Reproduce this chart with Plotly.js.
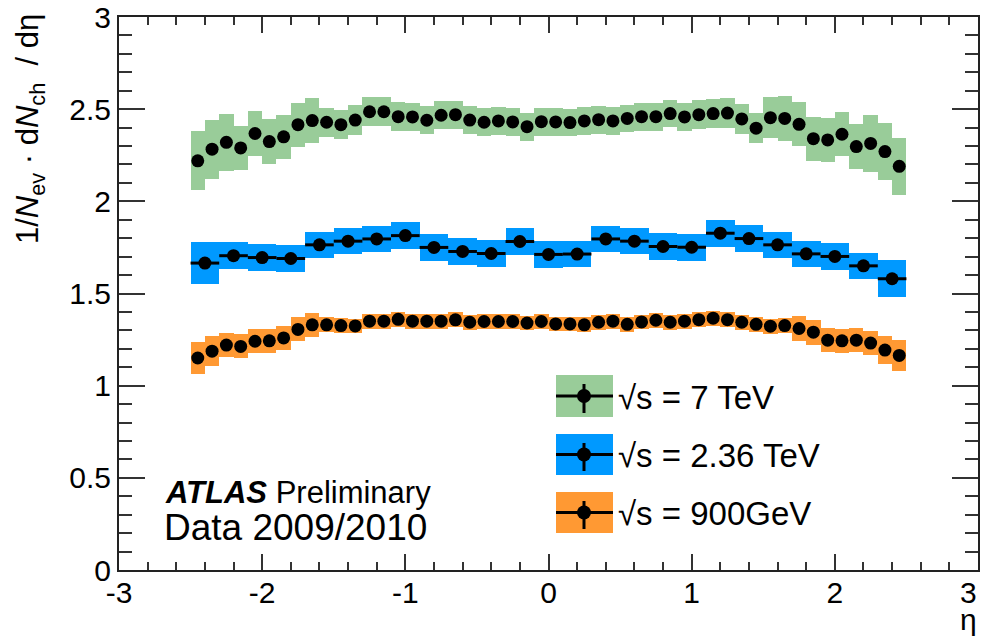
<!DOCTYPE html>
<html>
<head>
<meta charset="utf-8">
<script src="https://cdn.plot.ly/plotly-3.0.1.min.js"></script>
<style>
html,body{margin:0;padding:0;background:#fff;}
#chart{width:985px;height:639px;}
</style>
</head>
<body>
<div id="chart"></div>
<script>
// eta bin centres
var etaFine = [-2.45,-2.35,-2.25,-2.15,-2.05,-1.95,-1.85,-1.75,-1.65,-1.55,-1.45,-1.35,-1.25,-1.15,-1.05,-0.95,-0.85,-0.75,-0.65,-0.55,-0.45,-0.35,-0.25,-0.15,-0.05,
               0.05,0.15,0.25,0.35,0.45,0.55,0.65,0.75,0.85,0.95,1.05,1.15,1.25,1.35,1.45,1.55,1.65,1.75,1.85,1.95,2.05,2.15,2.25,2.35,2.45];
var etaCoarse = [-2.4,-2.2,-2.0,-1.8,-1.6,-1.4,-1.2,-1.0,-0.8,-0.6,-0.4,-0.2,0.0,0.2,0.4,0.6,0.8,1.0,1.2,1.4,1.6,1.8,2.0,2.2,2.4];
var fineWidth = 0.1, coarseWidth = 0.2;

// sqrt(s) = 7 TeV
var val7 = [2.22,2.283,2.32,2.29,2.368,2.324,2.35,2.416,2.438,2.429,2.416,2.441,2.486,2.486,2.459,2.458,2.44,2.467,2.47,2.441,2.429,2.436,2.431,2.405,2.432,
            2.431,2.427,2.436,2.443,2.436,2.45,2.459,2.459,2.476,2.458,2.47,2.476,2.479,2.447,2.397,2.454,2.45,2.418,2.34,2.333,2.364,2.297,2.314,2.27,2.19];
var sys7 = [0.16,0.16,0.155,0.12,0.12,0.12,0.12,0.12,0.12,0.08,0.08,0.08,0.08,0.08,0.078,0.075,0.075,0.075,0.075,0.075,0.075,0.075,0.075,0.075,0.075,
            0.075,0.075,0.075,0.075,0.075,0.075,0.075,0.075,0.075,0.075,0.078,0.08,0.08,0.08,0.08,0.11,0.12,0.12,0.12,0.12,0.12,0.12,0.155,0.155,0.155];

// sqrt(s) = 2.36 TeV
var val236 = [1.665,1.705,1.695,1.69,1.764,1.784,1.796,1.814,1.75,1.728,1.717,1.782,1.712,1.714,1.796,1.784,1.755,1.751,1.827,1.798,1.764,1.715,1.701,1.65,1.58];
var sys236 = [0.113,0.074,0.074,0.074,0.072,0.072,0.072,0.072,0.072,0.072,0.072,0.072,0.072,0.072,0.072,0.072,0.072,0.072,0.072,0.072,0.072,0.072,0.072,0.07,0.1];

// sqrt(s) = 900 GeV
var val900 = [1.15,1.187,1.22,1.213,1.241,1.243,1.259,1.305,1.33,1.33,1.326,1.324,1.35,1.35,1.36,1.35,1.35,1.35,1.357,1.344,1.348,1.348,1.348,1.34,1.348,
              1.335,1.335,1.33,1.344,1.35,1.333,1.346,1.355,1.344,1.35,1.358,1.366,1.358,1.344,1.333,1.323,1.326,1.31,1.29,1.247,1.243,1.247,1.231,1.193,1.164];
var sys900 = [0.087,0.08,0.065,0.065,0.065,0.065,0.065,0.065,0.065,0.04,0.04,0.04,0.04,0.04,0.04,0.04,0.04,0.04,0.04,0.04,0.04,0.04,0.04,0.04,0.04,
              0.04,0.04,0.04,0.04,0.04,0.04,0.04,0.04,0.04,0.04,0.04,0.04,0.04,0.04,0.04,0.04,0.04,0.067,0.067,0.067,0.067,0.067,0.067,0.078,0.085];

var seriesNames = ["\u221As = 7 TeV", "\u221As = 2.36 TeV", "\u221As = 900GeV"];
var xTickVals = [-3,-2,-1,0,1,2,3];
var xTickText = ["-3","-2","-1","0","1","2",""];
var xLastLabel = "3";
var yTickVals = [0,0.5,1,1.5,2,2.5,3];
var yTickText = ["0","0.5","1","1.5","2","2.5","3"];

var cGreen = "#99cc99", cBlue = "#0099ff", cOrange = "#ff9933";
var FONT = "Liberation Sans, Arial, Helvetica, sans-serif";

function band(x, v, e, w, color) {
  return {
    type: "bar", x: x,
    y: e.map(function (d) { return 2 * d; }),
    base: v.map(function (d, i) { return d - e[i]; }),
    width: w, marker: {color: color, line: {width: 0}},
    hoverinfo: "skip", showlegend: false
  };
}
function pts(x, v, xerr) {
  var t = {
    type: "scatter", mode: "markers", x: x, y: v,
    marker: {color: "#000", size: 13}, showlegend: false, cliponaxis: false
  };
  if (xerr) t.error_x = {type: "constant", value: xerr, color: "#000", thickness: 3, width: 0};
  return t;
}

var data = [
  band(etaFine, val7, sys7, fineWidth, cGreen),
  band(etaCoarse, val236, sys236, coarseWidth, cBlue),
  band(etaFine, val900, sys900, fineWidth, cOrange),
  pts(etaFine, val7, 0),
  pts(etaCoarse, val236, coarseWidth / 2),
  pts(etaFine, val900, 0)
];

var L = 119, R = 978, T = 17, B = 570;
function px(p) { return (p - L) / (R - L); }
function py(p) { return (B - p) / (B - T); }

var shapes = [];
var annotations = [];
var legRows = [[375, 417, cGreen], [434, 475, cBlue], [492, 533, cOrange]];
legRows.forEach(function (r, i) {
  var cy = (r[0] + r[1]) / 2, cx = 584;
  shapes.push({type: "rect", xref: "paper", yref: "paper", x0: px(556), x1: px(613), y0: py(r[1]), y1: py(r[0]), fillcolor: r[2], line: {width: 0}});
  shapes.push({type: "line", xref: "paper", yref: "paper", x0: px(556), x1: px(613), y0: py(cy), y1: py(cy), line: {color: "#000", width: 3}});
  shapes.push({type: "line", xref: "paper", yref: "paper", x0: px(cx), x1: px(cx), y0: py(r[0] + 9), y1: py(r[1] - 4), line: {color: "#000", width: 3}});
  shapes.push({type: "circle", xref: "paper", yref: "paper", x0: px(cx - 7), x1: px(cx + 7), y0: py(cy + 7), y1: py(cy - 7), fillcolor: "#000", line: {width: 0}});
  annotations.push({xref: "paper", yref: "paper", x: px(616), y: py(cy + 1), xanchor: "left", yanchor: "middle",
    text: seriesNames[i], showarrow: false, font: {family: FONT, size: 33, color: "#000"}});
});

annotations.push({xref: "paper", yref: "paper", x: px(163), y: py(492), xanchor: "left", yanchor: "middle",
  text: "<b><i>ATLAS</i></b> Preliminary", showarrow: false, font: {family: FONT, size: 31, color: "#000"}});
annotations.push({xref: "paper", yref: "paper", x: px(162), y: py(527), xanchor: "left", yanchor: "middle",
  text: "Data 2009/2010", showarrow: false, font: {family: FONT, size: 37, color: "#000"}});
annotations.push({xref: "paper", yref: "paper", x: px(30), y: py(12), xanchor: "center", yanchor: "top", textangle: -90,
  text: "1/<i>N</i><sub>ev</sub> \u00b7 d<i>N</i><sub>ch</sub>\u00a0\u00a0/ d\u03b7", showarrow: false,
  font: {family: FONT, size: 31, color: "#000"}});
annotations.push({xref: "paper", yref: "paper", x: px(968), y: py(619), xanchor: "center", yanchor: "middle",
  text: "\u03b7", showarrow: false, font: {family: FONT, size: 30, color: "#000"}});
annotations.push({xref: "paper", yref: "paper", x: px(968), y: py(592), xanchor: "center", yanchor: "middle",
  text: xLastLabel, showarrow: false, font: {family: FONT, size: 30, color: "#000"}});

var tickFont = {family: FONT, size: 30, color: "#000"};
var layout = {
  width: 985, height: 639,
  margin: {l: L, r: 985 - R, t: T, b: 639 - B, pad: 0},
  paper_bgcolor: "#fff", plot_bgcolor: "#fff",
  barmode: "overlay", bargap: 0, showlegend: false,
  xaxis: {
    range: [-3, 3], tickvals: xTickVals, ticktext: xTickText, ticks: "inside", ticklen: 16, tickwidth: 2, tickcolor: "#333",
    ticklabelstandoff: -5,
    minor: {dtick: 0.2, tick0: 0, ticks: "inside", ticklen: 8, tickwidth: 2, tickcolor: "#333", showgrid: false},
    showline: true, linecolor: "#222", linewidth: 2, mirror: "ticks", showgrid: false, zeroline: false,
    tickfont: tickFont, fixedrange: true
  },
  yaxis: {
    range: [0, 3], tickvals: yTickVals, ticktext: yTickText, ticks: "inside", ticklen: 26, tickwidth: 2, tickcolor: "#333",
    minor: {dtick: 0.1, tick0: 0, ticks: "inside", ticklen: 13, tickwidth: 2, tickcolor: "#333", showgrid: false},
    showline: true, linecolor: "#222", linewidth: 2, mirror: "ticks", showgrid: false, zeroline: false,
    tickfont: tickFont, fixedrange: true
  },
  shapes: shapes,
  annotations: annotations
};

Plotly.newPlot("chart", data, layout, {staticPlot: true});
</script>
</body>
</html>
